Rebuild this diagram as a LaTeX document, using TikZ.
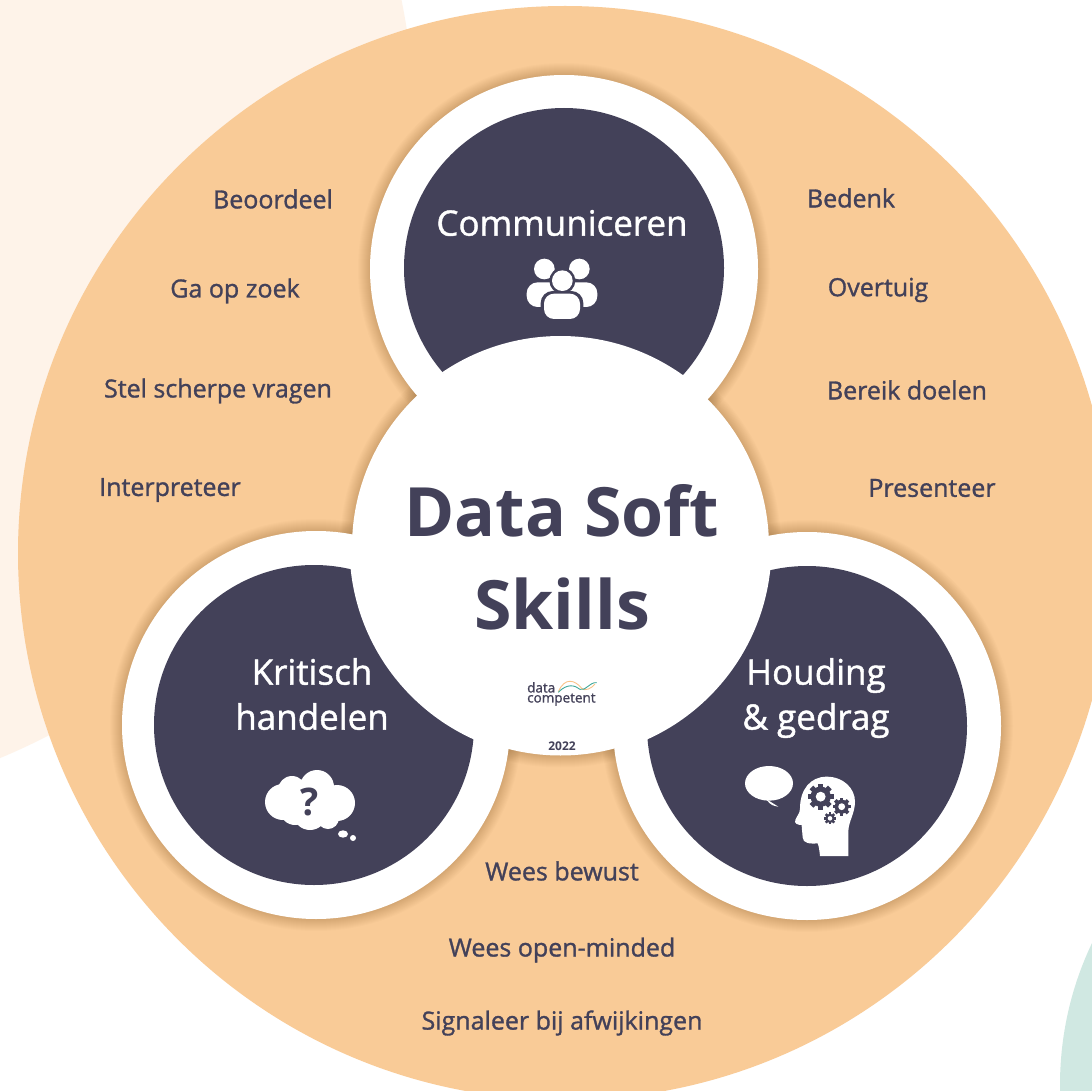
\documentclass[tikz,border=0pt]{standalone}
\usepackage{fontspec}
\setmainfont{Open Sans}
\newfontfamily\medfont[FakeBold=1.2]{Open Sans}
\definecolor{peach}{HTML}{F9CB97}
\definecolor{ink}{HTML}{434159}
\definecolor{pale}{HTML}{FEF3E9}
\definecolor{mint}{HTML}{D0E8E2}
\definecolor{shade}{HTML}{7A5020}
\definecolor{teal}{HTML}{3FA89A}
\tikzset{
  lbl/.style={font=\medfont\fontsize{25}{25}\selectfont,text=ink,inner sep=0pt},
  head/.style={font=\medfont\fontsize{35}{45}\selectfont,text=white,inner sep=0pt,align=center},
  ttl/.style={font=\bfseries\fontsize{68}{93}\selectfont,text=ink,inner sep=0pt,align=center},
  softedge/.style={fill=shade,fill opacity=0.022,draw=none}
}
\newcommand{\softcircle}[3]{\foreach \i in {1,...,12}{\fill[softedge] (#1,#2) circle ({#3+\i});}}
\newcommand{\gear}[4]{% x y router teeth
  \foreach \a in {1,...,#4}{\fill[ink,rotate around={{\a*360/#4}:(#1,#2)}] ({#1-0.2*#3},#2) rectangle ({#1+0.2*#3},{#2-#3});}
  \fill[ink] (#1,#2) circle ({0.78*#3});
  \fill[white] (#1,#2) circle ({0.38*#3});
}
\newcommand{\darkdisc}[2]{%
  \fill[ink] (#1,#2) circle (160);
  \begin{scope}\clip (#1,#2) circle (160.5);\fill[white] (560.5,547) circle (211);\end{scope}}
\begin{document}
\begin{tikzpicture}[x=1pt,y=-1pt]
\useasboundingbox (0,0) rectangle (1092,1091);
\fill[white] (0,0) rectangle (1092,1091);
\begin{scope}
\clip (0,0) rectangle (1092,1091);
\fill[pale] (-260,135) circle (675);
\fill[mint] (1390,1085) circle (330);
\fill[peach] (565,553) circle (547);
\softcircle{564}{269}{194}
\softcircle{316}{725}{194}
\softcircle{807}{726}{194}
\softcircle{560.5}{547}{208.5}
\fill[white] (564,269) circle (194);
\fill[white] (316,725) circle (194);
\fill[white] (807,726) circle (194);
\darkdisc{564}{268}
\darkdisc{314}{725}
\darkdisc{807}{726}
\fill[white] (560.5,547) circle (208.5);
\end{scope}

\node[ttl] (title) at (562,557) {Data Soft\\Skills};
\node[head] (comm) at (562,223) {Communiceren};
\node[head] (krit) at (312,694) {Kritisch\\handelen};
\node[head] (houd) at (816,698) {Houding\\\&\ gedrag};

\node[lbl] (l1) at (273,199) {Beoordeel};
\node[lbl] (l2) at (235,291) {Ga op zoek};
\node[lbl] (l3) at (218,391) {Stel scherpe vragen};
\node[lbl] (l4) at (170,490) {Interpreteer};
\node[lbl] (r1) at (851,198) {Bedenk};
\node[lbl] (r2) at (878,290) {Overtuig};
\node[lbl] (r3) at (907,390) {Bereik doelen};
\node[lbl] (r4) at (932,488) {Presenteer};
\node[lbl] (b1) at (562,871) {Wees bewust};
\node[lbl] (b2) at (562,950) {Wees open-minded};
\node[lbl] (b3) at (562,1023) {Signaleer bij afwijkingen};

% people icon
\begin{scope}[shift={(510,245)},scale=1/3]
\fill[white] (103,72) circle (31);
\fill[white] (208,72) circle (31);
\fill[white,rounded corners=11pt] (50,186) -- (50,112) -- (262,112) -- (262,186) -- cycle;
\fill[ink] (157,107) circle (39);
\fill[ink,rounded corners=12pt] (92,232) -- (92,138) -- (220,138) -- (220,232) -- cycle;
\fill[white] (157,107) circle (31);
\fill[white,rounded corners=10pt] (102,222) -- (102,146) -- (210,146) -- (210,222) -- cycle;
\end{scope}

% thought cloud
\begin{scope}[white]
\fill (283,802) circle (18);
\fill (292,790) circle (14);
\fill (317,787) circle (17);
\fill (337,803) circle (18);
\fill (310,813) circle (17);
\fill (295,810) circle (15);
\fill (328,818) circle (11);
\fill (310,800) circle (22);
\fill (343,834) ellipse (5 and 3.7);
\fill (353,838) circle (3);
\end{scope}
\node[font=\bfseries\fontsize{38}{38}\selectfont,text=ink,inner sep=0pt] (qm) at (310,802) {?};

% speech bubble and head
\begin{scope}[shift={(720,750)},scale=1/3]
\fill[white] (147,100) ellipse (72 and 52);
\fill[white] (135,145) -- (175,170) .. controls (160,168) and (152,165) .. (140,150) -- cycle;
\fill[white] (385,318) -- (300,318) .. controls (298,300) and (297,290) .. (293,280)
  .. controls (270,282) and (248,280) .. (248,262) .. controls (248,250) and (245,240) .. (245,225)
  .. controls (232,225) and (222,220) .. (226,210) .. controls (232,195) and (240,190) .. (240,175)
  .. controls (240,120) and (270,80) .. (320,80) .. controls (370,80) and (405,115) .. (405,155)
  .. controls (405,190) and (385,215) .. (385,245) -- cycle;
\gear{302}{140}{39}{8}
\gear{365}{170}{27}{8}
\gear{330}{205}{18}{8}
\end{scope}

% logo
\node[font=\medfont\fontsize{13.5}{10}\selectfont,text=ink,inner sep=0pt,align=left,anchor=north west] (logo) at (527,682) {data\\competent};
\begin{scope}[shift={(500,660)},scale=1/3,line width=0.9pt]
\draw[peach!90!orange] (175,95) .. controls (195,50) and (225,60) .. (245,85) .. controls (255,95) and (275,85) .. (285,72);
\draw[teal] (175,97) .. controls (200,70) and (225,75) .. (240,88) .. controls (255,95) and (270,65) .. (290,68);
\end{scope}
\node[font=\bfseries\fontsize{12}{12}\selectfont,text=ink,inner sep=0pt] (yr) at (562,746) {2022};
\end{tikzpicture}
\end{document}
